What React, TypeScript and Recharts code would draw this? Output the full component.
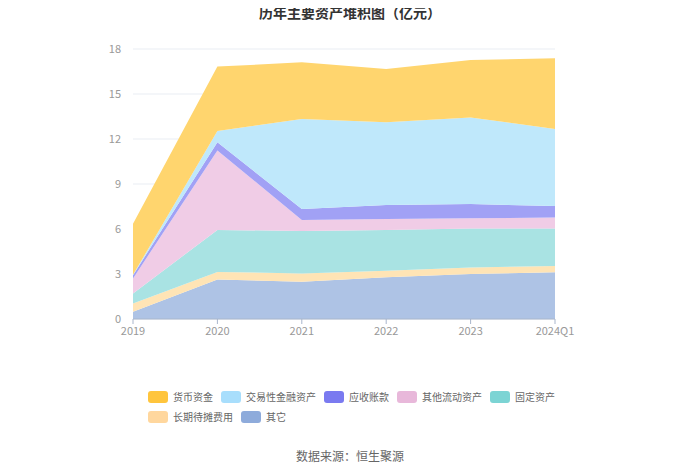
import React from 'react';
import { AreaChart, Area, XAxis, YAxis, CartesianGrid } from 'recharts';

const categories = ['2019', '2020', '2021', '2022', '2023', '2024Q1'];
const other = [0.49, 2.64, 2.49, 2.78, 3.0, 3.11];
const longTermPrepaid = [0.55, 0.5, 0.55, 0.44, 0.44, 0.42];
const fixedAssets = [0.66, 2.8, 2.83, 2.71, 2.6, 2.51];
const otherCurrent = [1.0, 5.3, 0.73, 0.74, 0.67, 0.72];
const receivables = [0.22, 0.55, 0.73, 0.93, 0.96, 0.77];
const tradingAssets = [0.03, 0.74, 6.0, 5.51, 5.77, 5.14];
const cash = [3.4, 4.3, 3.78, 3.56, 3.83, 4.71];
const yTicks = [0, 3, 6, 9, 12, 15, 18];

const series = [
  { key: 'other', name: '其它', values: other, swatch: '#8EABDB', fill: '#AEC3E5' },
  { key: 'ltp', name: '长期待摊费用', values: longTermPrepaid, swatch: '#FFD79E', fill: '#FFE4B5' },
  { key: 'fixed', name: '固定资产', values: fixedAssets, swatch: '#7CD4D4', fill: '#A9E3E3' },
  { key: 'oca', name: '其他流动资产', values: otherCurrent, swatch: '#E8B8DA', fill: '#F0CCE6' },
  { key: 'rec', name: '应收账款', values: receivables, swatch: '#7A7AF0', fill: '#A1A1F5' },
  { key: 'trade', name: '交易性金融资产', values: tradingAssets, swatch: '#A8DEFC', fill: '#BFE8FB' },
  { key: 'cash', name: '货币资金', values: cash, swatch: '#FFC53D', fill: '#FFD56E' },
];

const data = categories.map((c, i) => {
  const row: Record<string, any> = { name: c };
  series.forEach((s) => {
    row[s.key] = s.values[i];
  });
  return row;
});

const legendOrder = [...series].reverse();
const legendRows = [legendOrder.slice(0, 5), legendOrder.slice(5)];

const font = '"Noto Sans CJK SC", "Noto Sans", sans-serif';

export default function App() {
  return (
    <div style={{ position: 'relative', left: -8, top: -8, width: 700, height: 473, background: '#fff', fontFamily: font }}>
      <AreaChart width={700} height={473} data={data} margin={{ top: 49, right: 145, bottom: 124, left: 93 }}>
        <CartesianGrid vertical={false} stroke="#E9EDF3" />
        <XAxis
          dataKey="name"
          height={30}
          tick={{ fontSize: 11, fill: '#999', fontFamily: font }}
          tickLine={{ stroke: '#A9B6CC' }}
          axisLine={{ stroke: '#A9B6CC' }}
          tickSize={5}
          tickMargin={3}
          interval={0}
        />
        <YAxis
          width={40}
          domain={[0, 18]}
          ticks={yTicks}
          tick={{ fontSize: 11, fill: '#999', fontFamily: font }}
          axisLine={false}
          tickLine={false}
          tickMargin={6}
        />
        {series.map((s) => (
          <Area
            key={s.key}
            dataKey={s.key}
            name={s.name}
            stackId="a"
            type="linear"
            stroke="none"
            fill={s.fill}
            fillOpacity={1}
            isAnimationActive={false}
          />
        ))}
      </AreaChart>
      <div style={{ position: 'absolute', top: 2, left: 0, width: 700, textAlign: 'center', fontSize: 14, fontWeight: 'bold', color: '#333', lineHeight: '20px', zIndex: 2 }}>
        历年主要资产堆积图（亿元）
      </div>
      {legendRows.map((row, ri) => (
        <div key={ri} style={{ position: 'absolute', left: 148, top: 391 + ri * 20, display: 'flex', alignItems: 'center', height: 12 }}>
          {row.map((s) => (
            <div key={s.key} style={{ display: 'flex', alignItems: 'center', marginRight: 8 }}>
              <div style={{ width: 20, height: 12, borderRadius: 3, background: s.swatch, marginRight: 5 }} />
              <span style={{ fontSize: 10, color: '#666', lineHeight: '12px', whiteSpace: 'nowrap' }}>{s.name}</span>
            </div>
          ))}
        </div>
      ))}
      <div style={{ position: 'absolute', top: 447, left: 0, width: 700, textAlign: 'center', fontSize: 12, color: '#666', lineHeight: '18px' }}>
        数据来源：恒生聚源
      </div>
    </div>
  );
}
